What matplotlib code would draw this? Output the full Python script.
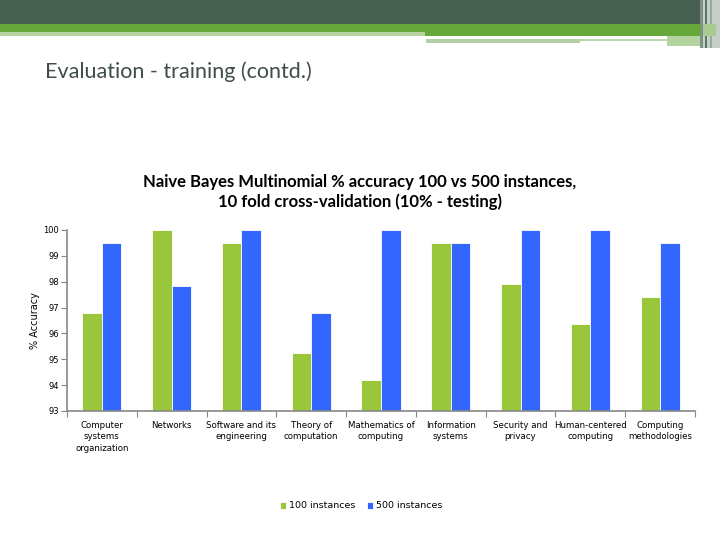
import matplotlib
matplotlib.use("Agg")
import matplotlib.pyplot as plt
from matplotlib.patches import Rectangle
import numpy as np

categories = ["Computer\nsystems\norganization", "Networks", "Software and its\nengineering",
              "Theory of\ncomputation", "Mathematics of\ncomputing", "Information\nsystems",
              "Security and\nprivacy", "Human-centered\ncomputing", "Computing\nmethodologies"]
acc_100 = [96.8, 100.0, 99.5, 95.25, 94.2, 99.5, 97.9, 96.35, 97.4]
acc_500 = [99.5, 97.85, 100.0, 96.8, 100.0, 99.5, 100.0, 100.0, 99.5]
series_names = ["100 instances", "500 instances"]
yticks = [93, 94, 95, 96, 97, 98, 99, 100]

W, H = 720, 540
fig = plt.figure(figsize=(7.2, 5.4), dpi=100)
fig.patch.set_facecolor("white")

def prect(x0, y0, x1, y1, color):
    fig.patches.append(Rectangle((x0 / W, 1 - y1 / H), (x1 - x0) / W, (y1 - y0) / H,
                                 transform=fig.transFigure, facecolor=color,
                                 edgecolor="none", zorder=0))

# header decoration
prect(0, 0, 700, 24, "#475F50")
prect(0, 24, 700, 32, "#67A83A")
prect(425, 32, 700, 36, "#67A83A")
prect(0, 32, 425, 36, "#B5D3A0")
prect(426, 39, 580, 43, "#B5CFA5")
prect(580, 39, 667, 41, "#BDD7AC")
prect(667, 36, 700, 46, "#B3D3A0")
prect(700, 0, 720, 48, "#C6CEC9")
prect(700, 0, 703, 48, "#7E9285")
prect(705, 0, 707, 48, "#5F7566")
prect(710, 0, 712, 48, "#9AAA9F")
prect(703, 24, 716, 36, "#A9CB92")

fig.text(45 / W, 1 - 72 / H, "Evaluation - training (contd.)", fontsize=15.5,
         family="Lato", color="#3E4E44", va="center", ha="left")

fig.text(360 / W, 1 - 192 / H,
         "Naive Bayes Multinomial % accuracy 100 vs 500 instances,\n10 fold cross-validation (10% - testing)",
         fontsize=12, fontweight="bold", family="Lato", ha="center", va="center",
         linespacing=1.3, color="black")

ax = fig.add_axes([67 / W, 1 - 411 / H, 628 / W, 181 / H])
x = np.arange(len(categories))
bw = 0.28
green = "#9AC63C"
blue = "#3366FF"
ax.bar(x - bw / 2, [v - 93 for v in acc_100], bw, bottom=93, color=green,
       edgecolor="white", linewidth=0.6, label=series_names[0])
ax.bar(x + bw / 2, [v - 93 for v in acc_500], bw, bottom=93, color=blue,
       edgecolor="white", linewidth=0.6, label=series_names[1])

ax.set_xlim(-0.5, len(categories) - 0.5)
ax.set_ylim(93, 100)
ax.set_yticks(yticks)
ax.set_yticklabels([str(t) for t in yticks], fontsize=6, family="DejaVu Sans")
ax.set_xticks(np.arange(len(categories) + 1) - 0.5)
ax.set_xticklabels([])
ax.set_xticks(x, minor=True)
ax.set_xticklabels(categories, minor=True, fontsize=6.2, family="DejaVu Sans",
                   linespacing=1.35)
ax.tick_params(axis="x", which="minor", length=0, pad=7)
ax.tick_params(axis="x", which="major", length=4, color="#888888", direction="out")
ax.tick_params(axis="y", length=4, color="#888888", pad=2)
for s in ["top", "right"]:
    ax.spines[s].set_visible(False)
for s in ["left", "bottom"]:
    ax.spines[s].set_color("#888888")
    ax.spines[s].set_linewidth(1.2)
ax.set_ylabel("% Accuracy", fontsize=7, family="DejaVu Sans", labelpad=2)

leg = fig.legend(loc="center", bbox_to_anchor=(361 / W, 1 - 506 / H), ncol=2,
                 frameon=False, handlelength=0.7, handleheight=0.7,
                 handletextpad=0.3, columnspacing=1.2, prop={"family": "DejaVu Sans", "size": 6.8})

fig.savefig("out.png", dpi=100)
